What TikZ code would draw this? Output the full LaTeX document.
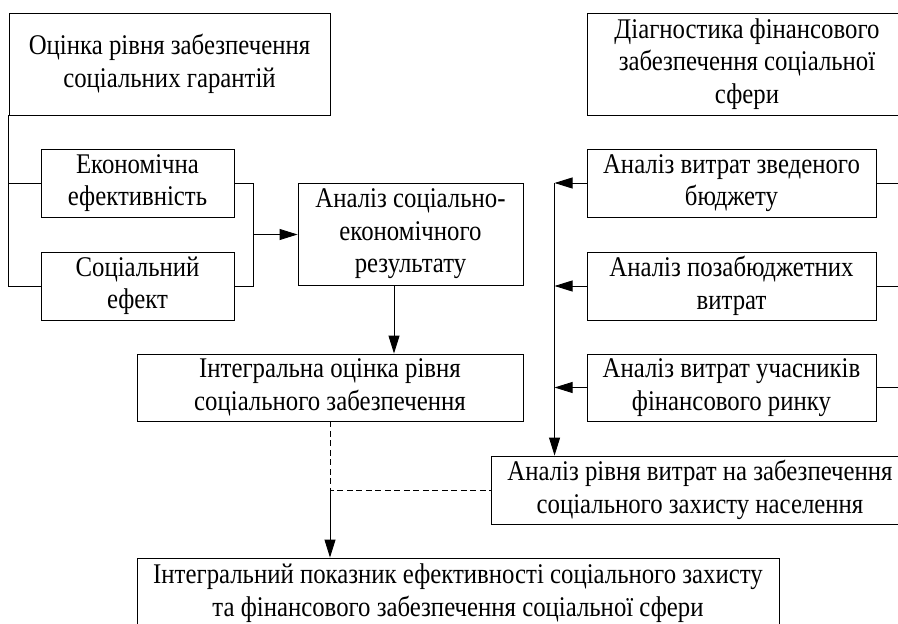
\documentclass[tikz,border=0pt]{standalone}
\usepackage{fontspec}
\setmainfont{Liberation Serif}[FakeStretch=0.87]
\usetikzlibrary{arrows.meta,calc}
\begin{document}
\begin{tikzpicture}[x=1pt,y=-1pt,
  box/.style={draw, line width=0.9pt, inner sep=0pt, align=center, font=\fontsize{28.5}{32.5}\selectfont},
  conn/.style={line width=0.9pt},
  arr/.style={conn,-{Triangle[length=18pt,width=11pt]}},
  dsh/.style={conn, dash pattern=on 6pt off 3.5pt}]
\useasboundingbox (0,0) rectangle (898,624);
\clip (0,0) rectangle (898,624);
\node[box, minimum width=321pt, minimum height=102pt] (A) at (169.5,64) {Оцінка рівня забезпечення\\соціальних гарантій};
\node[box, minimum width=193pt, minimum height=68pt] (E1) at (137.5,183) {Економічна\\ефективність};
\node[box, minimum width=193pt, minimum height=68pt] (E2) at (137.5,286) {Соціальний\\ефект};
\node[box, minimum width=225pt, minimum height=102pt] (S) at (410.5,234) {Аналіз соціально-\\економічного\\результату};
\node[box, minimum width=386pt, minimum height=67pt] (I) at (330,387.5) {Інтегральна оцінка рівня\\соціального забезпечення};
\node[box, minimum width=320pt, minimum height=102pt] (D) at (747,64) {Діагностика фінансового\\забезпечення соціальної\\сфери};
\node[box, minimum width=289pt, minimum height=68pt] (R1) at (731.5,183) {Аналіз витрат зведеного\\бюджету};
\node[box, minimum width=289pt, minimum height=68pt] (R2) at (731.5,286) {Аналіз позабюджетних\\витрат};
\node[box, minimum width=289pt, minimum height=67pt] (R3) at (731.5,387.5) {Аналіз витрат учасників\\фінансового ринку};
\node[box, minimum width=418pt, minimum height=68pt] (L) at (700,490) {Аналіз рівня витрат на забезпечення\\соціального захисту населення};
\node[box, minimum width=642pt, minimum height=70pt] (B) at (458,593) {Інтегральний показник ефективності соціального захисту\\та фінансового забезпечення соціальної сфери};
% left tree
\draw[conn] (A.south west) |- (E2.west);
\draw[conn] (A.south west |- E1.west) -- (E1.west);
% bracket
\draw[conn] (E1.east) -- ++(19,0) coordinate (b1) |- (E2.east);
\coordinate (bm) at ($(b1)!0.5!(b1 |- E2.east)$);
\draw[arr] (bm) -- (bm -| S.west);
% S to I
\draw[arr] ([xshift=-16.5pt]S.south) -- ([xshift=-16.5pt]S.south |- I.north);
% right collector
\coordinate (v) at ($(R1.west)+(-32,0)$);
\draw[arr] (R1.west) -- (v);
\draw[arr] (R2.west) -- (v |- R2.west);
\draw[arr] (R3.west) -- (v |- R3.west);
\draw[arr] (v) -- (v |- L.north);
% right stubs
\draw[conn] (R1.east) -- ++(40,0);
\draw[conn] (R2.east) -- ++(40,0);
\draw[conn] (R3.east) -- ++(40,0);
% dashed and final arrow
\draw[dsh] (I.south) -- (I.south |- L.west) coordinate (dj) -- (L.west);
\draw[arr] (dj) -- (dj |- B.north);
\end{tikzpicture}
\end{document}
